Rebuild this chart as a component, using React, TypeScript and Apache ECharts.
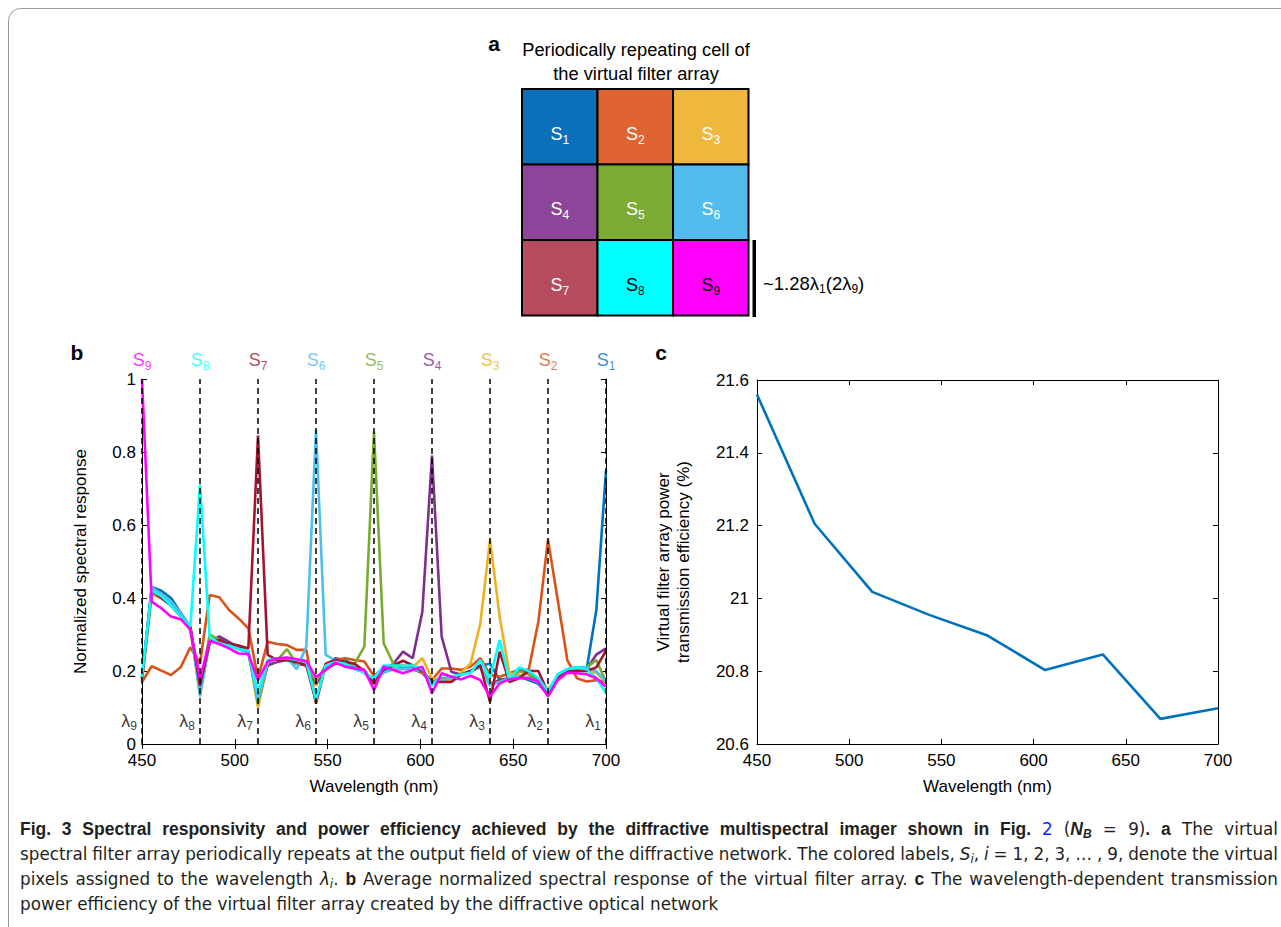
import React, { useEffect, useRef } from 'react';
import * as echarts from 'echarts';

const FONT = '"Liberation Sans", Arial, Helvetica, sans-serif';
const CAP_BOLD_FONT = '"Liberation Sans", Arial, sans-serif';
const CAP_FONT = '"DejaVu Sans", "Liberation Sans", sans-serif';

// Sampling grid (nm)
const wavelengths = [450, 455.21, 460.42, 465.63, 470.83, 476.04, 481.25, 486.46, 491.67, 496.88, 502.08, 507.29, 512.5, 517.71, 522.92, 528.13, 533.33, 538.54, 543.75, 548.96, 554.17, 559.38, 564.58, 569.79, 575, 580.21, 585.42, 590.63, 595.83, 601.04, 606.25, 611.46, 616.67, 621.88, 627.08, 632.29, 637.5, 642.71, 647.92, 653.13, 658.33, 663.54, 668.75, 673.96, 679.17, 684.38, 689.58, 694.79, 700];

// lambda_9 ... lambda_1
const lambdaCenters = [450, 481.25, 512.5, 543.75, 575, 606.25, 637.5, 668.75, 700];
const lambdaIndex = [9, 8, 7, 6, 5, 4, 3, 2, 1];

const s1 = [0.18, 0.43, 0.42, 0.40, 0.36, 0.32, 0.14, 0.28, 0.29, 0.27, 0.26, 0.25, 0.12, 0.22, 0.23, 0.235, 0.225, 0.22, 0.17, 0.21, 0.235, 0.23, 0.215, 0.2, 0.17, 0.2, 0.205, 0.21, 0.205, 0.195, 0.165, 0.175, 0.18, 0.19, 0.2, 0.215, 0.22, 0.175, 0.18, 0.185, 0.175, 0.165, 0.135, 0.19, 0.205, 0.21, 0.205, 0.367, 0.75];
const s2 = [0.17, 0.213, 0.201, 0.189, 0.21, 0.265, 0.22, 0.408, 0.402, 0.367, 0.344, 0.317, 0.18, 0.28, 0.274, 0.271, 0.258, 0.258, 0.11, 0.216, 0.23, 0.235, 0.23, 0.226, 0.186, 0.21, 0.215, 0.216, 0.207, 0.194, 0.175, 0.207, 0.207, 0.203, 0.212, 0.235, 0.19, 0.184, 0.194, 0.203, 0.203, 0.335, 0.56, 0.395, 0.23, 0.18, 0.171, 0.175, 0.17];
const s3 = [0.18, 0.41, 0.40, 0.39, 0.35, 0.31, 0.15, 0.29, 0.28, 0.27, 0.26, 0.255, 0.10, 0.22, 0.23, 0.235, 0.225, 0.215, 0.16, 0.21, 0.22, 0.225, 0.215, 0.2, 0.165, 0.205, 0.21, 0.215, 0.21, 0.235, 0.18, 0.175, 0.175, 0.195, 0.221, 0.33, 0.56, 0.349, 0.194, 0.19, 0.18, 0.17, 0.15, 0.185, 0.2, 0.205, 0.2, 0.195, 0.17];
const s4 = [0.18, 0.42, 0.40, 0.38, 0.35, 0.32, 0.15, 0.28, 0.295, 0.28, 0.265, 0.255, 0.12, 0.215, 0.225, 0.23, 0.22, 0.215, 0.165, 0.205, 0.22, 0.22, 0.21, 0.195, 0.17, 0.2, 0.22, 0.253, 0.235, 0.362, 0.79, 0.294, 0.198, 0.19, 0.2, 0.21, 0.165, 0.175, 0.18, 0.2, 0.2, 0.17, 0.14, 0.18, 0.2, 0.205, 0.205, 0.245, 0.262];
const s5 = [0.17, 0.41, 0.41, 0.39, 0.355, 0.32, 0.15, 0.30, 0.285, 0.275, 0.26, 0.255, 0.11, 0.225, 0.23, 0.26, 0.22, 0.22, 0.17, 0.215, 0.225, 0.225, 0.22, 0.267, 0.856, 0.276, 0.22, 0.21, 0.21, 0.2, 0.17, 0.18, 0.18, 0.19, 0.2, 0.21, 0.165, 0.17, 0.18, 0.2, 0.19, 0.17, 0.14, 0.18, 0.2, 0.205, 0.21, 0.23, 0.17];
const s6 = [0.18, 0.43, 0.41, 0.39, 0.36, 0.32, 0.13, 0.28, 0.285, 0.27, 0.26, 0.25, 0.12, 0.225, 0.23, 0.237, 0.205, 0.267, 0.86, 0.244, 0.23, 0.225, 0.215, 0.195, 0.17, 0.195, 0.205, 0.205, 0.205, 0.2, 0.165, 0.175, 0.18, 0.19, 0.2, 0.21, 0.16, 0.17, 0.18, 0.185, 0.18, 0.17, 0.14, 0.185, 0.205, 0.21, 0.21, 0.2, 0.17];
const s7 = [0.18, 0.42, 0.40, 0.38, 0.35, 0.32, 0.16, 0.28, 0.285, 0.275, 0.27, 0.262, 0.845, 0.244, 0.23, 0.23, 0.225, 0.215, 0.115, 0.22, 0.23, 0.225, 0.22, 0.2, 0.165, 0.205, 0.215, 0.228, 0.215, 0.2, 0.17, 0.17, 0.17, 0.19, 0.2, 0.215, 0.115, 0.253, 0.17, 0.18, 0.2, 0.2, 0.14, 0.18, 0.2, 0.2, 0.2, 0.21, 0.255];
const s8 = [0.184, 0.42, 0.405, 0.38, 0.35, 0.321, 0.71, 0.294, 0.275, 0.27, 0.26, 0.255, 0.14, 0.23, 0.235, 0.235, 0.23, 0.225, 0.12, 0.215, 0.225, 0.22, 0.205, 0.195, 0.18, 0.215, 0.215, 0.215, 0.215, 0.205, 0.16, 0.19, 0.185, 0.19, 0.195, 0.23, 0.18, 0.285, 0.175, 0.21, 0.2, 0.18, 0.145, 0.19, 0.205, 0.21, 0.205, 0.18, 0.14];
const s9 = [1.0, 0.39, 0.372, 0.349, 0.342, 0.314, 0.18, 0.282, 0.274, 0.262, 0.248, 0.247, 0.175, 0.226, 0.235, 0.237, 0.232, 0.227, 0.183, 0.203, 0.223, 0.212, 0.207, 0.203, 0.148, 0.212, 0.203, 0.194, 0.203, 0.212, 0.139, 0.194, 0.184, 0.177, 0.187, 0.175, 0.13, 0.166, 0.177, 0.18, 0.18, 0.171, 0.13, 0.175, 0.195, 0.194, 0.191, 0.18, 0.157];

const responses = [s1, s2, s3, s4, s5, s6, s7, s8, s9];
const seriesNames = ['S1', 'S2', 'S3', 'S4', 'S5', 'S6', 'S7', 'S8', 'S9'];
const lineColors = ['#0072BD', '#D95319', '#EDB120', '#7E2F8E', '#77AC30', '#4DBEEE', '#A2142F', '#00FFFF', '#FF00FF'];
const cellColors = ['#0A70B9', '#DF6431', '#EEB83E', '#8C4599', '#7BAB33', '#52BDED', '#B54B5D', '#00FFFF', '#FF00FF'];

// panel c
const efficiency = [21.56, 21.205, 21.018, 20.954, 20.898, 20.803, 20.846, 20.669, 20.698];

// caption (style key, text)
const captionLines: [string, string][][] = [
  [['b', 'Fig. 3 Spectral responsivity and power efficiency achieved by the diffractive multispectral imager shown in Fig. '], ['k', '2'], ['n', ' ('], ['bi', 'N'], ['sb', 'B'], ['n', ' = 9)'], ['b', '. a'], ['n', ' The virtual']],
  [['n', 'spectral filter array periodically repeats at the output field of view of the diffractive network. The colored labels, '], ['i', 'S'], ['si', 'i'], ['n', ', '], ['i', 'i'], ['n', ' = 1, 2, 3, … , 9, denote the virtual']],
  [['n', 'pixels assigned to the wavelength '], ['i', 'λ'], ['si', 'i'], ['n', '. '], ['b', 'b'], ['n', ' Average normalized spectral response of the virtual filter array. '], ['b', 'c'], ['n', ' The wavelength-dependent transmission']],
  [['n', 'power efficiency of the virtual filter array created by the diffractive optical network']],
];
const captionJustify = [true, true, true, false];

const CELL = 75.5;
const GX = 522;
const GY = 89;

function subRich(size: number, subSize: number, color: string) {
  return {
    m: { fontSize: size, fontFamily: FONT, fill: color, lineHeight: size + 6, verticalAlign: 'middle' },
    s: { fontSize: subSize, fontFamily: FONT, fill: color, lineHeight: subSize + 2, verticalAlign: 'bottom' },
  };
}

export default function App() {
  const ref = useRef<HTMLDivElement>(null);
  useEffect(() => {
    document.body.style.margin = '0';
    if (!ref.current) return;
    const chart = echarts.init(ref.current, undefined, { renderer: 'svg' });

    const graphics: any[] = [];
    // frame
    graphics.push({
      type: 'rect', silent: true,
      shape: { x: 8.5, y: 8.5, width: 1400, height: 1000, r: 12 },
      style: { fill: 'none', stroke: '#9a9a9a', lineWidth: 1 },
    });
    const letter = (t: string, x: number, y: number) => ({
      type: 'text', x, y,
      style: { text: t, fontSize: 21, fontWeight: 'bold', fontFamily: FONT, fill: '#000', align: 'center', verticalAlign: 'middle', textAlign: 'center', textVerticalAlign: 'middle' },
    });
    graphics.push(letter('a', 494, 43));
    graphics.push(letter('b', 77, 352));
    graphics.push(letter('c', 661, 352));
    // panel a title
    ['Periodically repeating cell of', 'the virtual filter array'].forEach((t, i) => {
      graphics.push({
        type: 'text', x: 636, y: 49 + i * 24,
        style: { text: t, fontSize: 18.3, fontFamily: FONT, fill: '#000', align: 'center', verticalAlign: 'middle', textAlign: 'center', textVerticalAlign: 'middle' },
      });
    });
    // cells
    for (let i = 0; i < 9; i++) {
      const r = Math.floor(i / 3);
      const c = i % 3;
      const x = GX + c * CELL;
      const y = GY + r * CELL;
      graphics.push({
        type: 'rect', silent: true,
        shape: { x, y, width: CELL, height: CELL },
        style: { fill: cellColors[i], stroke: '#000', lineWidth: 2 },
      });
      const tc = i >= 7 ? '#000' : '#fff';
      graphics.push({
        type: 'text', x: x + CELL / 2, y: y + CELL / 2 + 7,
        style: {
          text: `{m|S}{s|${i + 1}}`,
          rich: subRich(18, 12, tc),
          align: 'center', verticalAlign: 'middle', textAlign: 'center', textVerticalAlign: 'middle',
        },
      });
    }
    // scale bar
    graphics.push({
      type: 'rect', silent: true,
      shape: { x: 752.5, y: 240, width: 3.5, height: 77 },
      style: { fill: '#000' },
    });
    graphics.push({
      type: 'text', x: 763, y: 283,
      style: {
        text: '{m|~1.28λ}{s|1}{m|(2λ}{s|9}{m|)}',
        rich: subRich(18.5, 12, '#000'),
        align: 'left', verticalAlign: 'middle', textAlign: 'left', textVerticalAlign: 'middle',
      },
    });

    // caption: word by word, justified like the reference
    const capColor = '#231f20';
    const capStyles: Record<string, any> = {
      b: { size: 17.5, weight: 'bold', style: 'normal', color: capColor, dy: 0, family: CAP_BOLD_FONT },
      n: { size: 16.8, weight: 'normal', style: 'normal', color: capColor, dy: 0, family: CAP_FONT },
      k: { size: 16.8, weight: 'normal', style: 'normal', color: '#1a1aff', dy: 0, family: CAP_FONT },
      bi: { size: 17.5, weight: 'bold', style: 'italic', color: capColor, dy: 0, family: CAP_BOLD_FONT },
      i: { size: 16.8, weight: 'normal', style: 'italic', color: capColor, dy: 0, family: CAP_FONT },
      sb: { size: 12, weight: 'bold', style: 'italic', color: capColor, dy: 5, family: CAP_BOLD_FONT },
      si: { size: 12, weight: 'normal', style: 'italic', color: capColor, dy: 5, family: CAP_FONT },
    };
    const canvas = document.createElement('canvas');
    const ctx = canvas.getContext('2d') as CanvasRenderingContext2D;
    const measure = (text: string, st: any) => {
      ctx.font = `${st.style} ${st.weight} ${st.size}px ${st.family}`;
      return ctx.measureText(text).width;
    };
    const CAP_LEFT = 20;
    const CAP_RIGHT = 1278;
    captionLines.forEach((segs, li) => {
      const pieces: { space: boolean; text: string; st: any; w: number }[] = [];
      segs.forEach(([key, text]) => {
        const st = capStyles[key];
        const parts = text.split(' ');
        parts.forEach((p, j) => {
          if (p.length) pieces.push({ space: false, text: p, st, w: measure(p, st) });
          if (j < parts.length - 1) pieces.push({ space: true, text: ' ', st, w: measure(' ', st) });
        });
      });
      const total = pieces.reduce((a, p) => a + p.w, 0);
      const nSpaces = pieces.filter((p) => p.space).length;
      const extra = captionJustify[li] && nSpaces > 0 ? (CAP_RIGHT - CAP_LEFT - total) / nSpaces : 0;
      let x = CAP_LEFT;
      const y = 829 + li * 25;
      pieces.forEach((p) => {
        if (p.space) {
          x += p.w + extra;
          return;
        }
        graphics.push({
          type: 'text', x, y: y + p.st.dy, silent: true,
          style: {
            text: p.text, fontSize: p.st.size, fontWeight: p.st.weight, fontStyle: p.st.style,
            fontFamily: p.st.family, fill: p.st.color,
            align: 'left', verticalAlign: 'middle', textAlign: 'left', textVerticalAlign: 'middle',
          },
        });
        x += p.w;
      });
    });

    const axisCommon = {
      axisLine: { show: true, lineStyle: { color: '#000', width: 1 } },
      axisTick: { show: true, inside: true, length: 5, lineStyle: { color: '#000' } },
      splitLine: { show: false },
    };
    const labelStyle = { fontSize: 17, fontFamily: FONT, color: '#000' };
    const nameStyle = { fontSize: 17, fontFamily: FONT, color: '#000' };

    const series: any[] = [];
    // dashed lambda lines + lambda labels
    series.push({
      type: 'scatter', xAxisIndex: 0, yAxisIndex: 0, symbolSize: 0, silent: true,
      data: lambdaCenters.map((w, i) => ({ value: [w, 0.062], name: `λ${lambdaIndex[i]}` })),
      label: {
        show: true, position: 'left', distance: 5,
        formatter: (p: any) => `{m|λ}{s|${lambdaIndex[p.dataIndex]}}`,
        rich: {
          m: { fontSize: 18, fontFamily: FONT, color: '#000', lineHeight: 22, verticalAlign: 'middle' },
          s: { fontSize: 12, fontFamily: FONT, color: '#000', lineHeight: 13, verticalAlign: 'bottom' },
        },
      },
      markLine: {
        silent: true, symbol: ['none', 'none'], label: { show: false },
        lineStyle: { color: '#000', type: [6, 4], width: 1.5 },
        data: lambdaCenters.map((w) => ({ xAxis: w })),
      },
      z: 1,
    });
    // S labels at top
    const topRich: any = {};
    lineColors.forEach((c, i) => {
      topRich[`m${i + 1}`] = { fontSize: 18, fontFamily: FONT, color: c, lineHeight: 24, verticalAlign: 'middle' };
      topRich[`s${i + 1}`] = { fontSize: 12, fontFamily: FONT, color: c, lineHeight: 14, verticalAlign: 'bottom' };
    });
    series.push({
      type: 'scatter', xAxisIndex: 0, yAxisIndex: 0, symbolSize: 0, silent: true,
      data: lambdaCenters.map((w, i) => ({ value: [w, 1], name: `S${lambdaIndex[i]}` })),
      label: {
        show: true, position: 'top', distance: 7,
        formatter: (p: any) => {
          const k = lambdaIndex[p.dataIndex];
          return `{m${k}|S}{s${k}|${k}}`;
        },
        rich: topRich,
      },
      z: 1,
    });
    responses.forEach((arr, i) => {
      series.push({
        name: seriesNames[i], type: 'line', xAxisIndex: 0, yAxisIndex: 0,
        data: wavelengths.map((w, k) => [w, arr[k]]),
        showSymbol: false, symbol: 'none',
        lineStyle: { color: lineColors[i], width: 2.6 },
        itemStyle: { color: lineColors[i] },
        z: 2,
      });
    });
    series.push({
      name: 'efficiency', type: 'line', xAxisIndex: 2, yAxisIndex: 2,
      data: lambdaCenters.map((w, k) => [w, efficiency[k]]),
      showSymbol: false, symbol: 'none',
      lineStyle: { color: '#0072BD', width: 2.6 },
      z: 2,
    });

    chart.setOption({
      animation: false,
      backgroundColor: '#fff',
      textStyle: { fontFamily: FONT },
      grid: [
        { left: 142, top: 379, width: 464, height: 365 },
        { left: 757, top: 380, width: 461, height: 364 },
      ],
      xAxis: [
        {
          ...axisCommon, type: 'value', gridIndex: 0, position: 'bottom', min: 450, max: 700, interval: 50,
          axisLabel: { ...labelStyle, margin: 9, lineHeight: 15 },
          name: 'Wavelength (nm)', nameLocation: 'middle', nameGap: 34, nameTextStyle: nameStyle,
        },
        {
          ...axisCommon, type: 'value', gridIndex: 0, position: 'top', min: 450, max: 700, interval: 50,
          axisLabel: { show: false },
        },
        {
          ...axisCommon, type: 'value', gridIndex: 1, position: 'bottom', min: 450, max: 700, interval: 50,
          axisLabel: { ...labelStyle, margin: 9, lineHeight: 15 },
          name: 'Wavelength (nm)', nameLocation: 'middle', nameGap: 34, nameTextStyle: nameStyle,
        },
        {
          ...axisCommon, type: 'value', gridIndex: 1, position: 'top', min: 450, max: 700, interval: 50,
          axisLabel: { show: false },
        },
      ],
      yAxis: [
        {
          ...axisCommon, type: 'value', gridIndex: 0, position: 'left', min: 0, max: 1, interval: 0.2,
          axisLabel: { ...labelStyle, margin: 6, lineHeight: 14, padding: [0, 0, 3, 0] },
          name: 'Normalized spectral response', nameLocation: 'middle', nameGap: 53, nameTextStyle: nameStyle,
        },
        {
          ...axisCommon, type: 'value', gridIndex: 0, position: 'right', min: 0, max: 1, interval: 0.2,
          axisLabel: { show: false },
        },
        {
          ...axisCommon, type: 'value', gridIndex: 1, position: 'left', min: 20.6, max: 21.6, interval: 0.2,
          axisLabel: { ...labelStyle, margin: 8, lineHeight: 14 },
          name: 'Virtual filter array power\ntransmission efficiency (%)', nameLocation: 'middle', nameGap: 64,
          nameTextStyle: { ...nameStyle, lineHeight: 20 },
        },
        {
          ...axisCommon, type: 'value', gridIndex: 1, position: 'right', min: 20.6, max: 21.6, interval: 0.2,
          axisLabel: { show: false },
        },
      ],
      series,
      graphic: graphics,
    });
    return () => chart.dispose();
  }, []);
  return <div ref={ref} style={{ width: 1281, height: 927 }} />;
}
